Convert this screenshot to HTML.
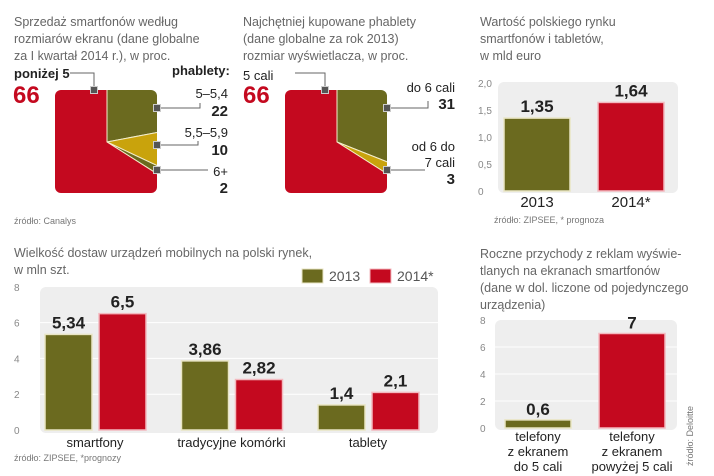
<!DOCTYPE html>
<html><head><meta charset="utf-8"><style>
body{margin:0;background:#fff;width:714px;height:476px;overflow:hidden}
svg{display:block;font-family:"Liberation Sans","DejaVu Sans",sans-serif}
</style></head><body>
<svg id="s" width="714" height="476" viewBox="0 0 714 476">
<defs>
<clipPath id="c1"><rect x="55" y="90" width="102" height="103" rx="6"/></clipPath>
<clipPath id="c2"><rect x="285" y="90" width="102" height="103" rx="6"/></clipPath>
</defs>
<g fill="#666" font-size="12.5">
<text x="14" y="26">Sprzedaż smartfonów według</text>
<text x="14" y="43">rozmiarów ekranu (dane globalne</text>
<text x="14" y="60">za I kwartał 2014 r.), w proc.</text>
<text x="243" y="26">Najchętniej kupowane phablety</text>
<text x="243" y="43">(dane globalne za rok 2013)</text>
<text x="243" y="60">rozmiar wyświetlacza, w proc.</text>
<text x="480" y="26">Wartość polskiego rynku</text>
<text x="480" y="43">smartfonów i tabletów,</text>
<text x="480" y="60">w mld euro</text>
<text x="14" y="257">Wielkość dostaw urządzeń mobilnych na polski rynek,</text>
<text x="14" y="274">w mln szt.</text>
<text x="480" y="258">Roczne przychody z reklam wyświe-</text>
<text x="480" y="275">tlanych na ekranach smartfonów</text>
<text x="480" y="292">(dane w dol. liczone od pojedynczego</text>
<text x="480" y="309">urządzenia)</text>
</g>
<g fill="#777" font-size="9">
<text x="14" y="224">źródło: Canalys</text>
<text x="494" y="223">źródło: ZIPSEE, * prognoza</text>
<text x="14" y="461">źródło: ZIPSEE, *prognozy</text>
<text transform="translate(693,466) rotate(-90)">źródło: Deloitte</text>
</g>
<!-- pie 1 labels -->
<g font-weight="bold" fill="#222" font-size="13">
<text x="14" y="78">poniżej 5</text>
<text x="172" y="75">phablety:</text>
<text x="228" y="98" text-anchor="end" font-weight="normal">5–5,4</text>
<text x="228" y="116" text-anchor="end" font-size="15">22</text>
<text x="228" y="137" text-anchor="end" font-weight="normal">5,5–5,9</text>
<text x="228" y="155" text-anchor="end" font-size="15">10</text>
<text x="228" y="176" text-anchor="end" font-weight="normal">6+</text>
<text x="228" y="193" text-anchor="end" font-size="15">2</text>
<text x="243" y="80" font-weight="normal">5 cali</text>
<text x="455" y="92" text-anchor="end" font-weight="normal">do 6 cali</text>
<text x="455" y="109" text-anchor="end" font-size="15">31</text>
<text x="455" y="151" text-anchor="end" font-weight="normal">od 6 do</text>
<text x="455" y="167" text-anchor="end" font-weight="normal">7 cali</text>
<text x="455" y="184" text-anchor="end" font-size="15">3</text>
</g>
<text x="13" y="103" fill="#c4091f" font-size="24" font-weight="bold">66</text>
<text x="243" y="103" fill="#c4091f" font-size="24" font-weight="bold">66</text>
<g stroke="#666" stroke-width="1" fill="none">
<polyline points="70,73 94,73 94,90"/>
<polyline points="157,108 200,108 200,103"/>
<polyline points="157,145 198,145 198,141"/>
<polyline points="157,170 208,170"/>
<polyline points="295,73 325,73 325,90"/>
<polyline points="387,108 428,108 428,101"/>
<polyline points="387,170 425,170"/>
</g>
<g id="g"></g>
</svg>
<script>
const pie1Labels=["5–5,4","5,5–5,9","6+","poniżej 5"];
const pie1Values=[22,10,2,66];
const pie2Labels=["do 6 cali","od 6 do 7 cali","5 cali"];
const pie2Values=[31,3,66];
const marketCats=["2013","2014*"];
const marketValues=[1.35,1.64];
const marketTicks=["0","0,5","1,0","1,5","2,0"];
const delivCats=["smartfony","tradycyjne komórki","tablety"];
const deliv2013=[5.34,3.86,1.4];
const deliv2014=[6.5,2.82,2.1];
const delivTicks=[0,2,4,6,8];
const adsCats=[["telefony","z ekranem","do 5 cali"],["telefony","z ekranem","powyżej 5 cali"]];
const adsValues=[0.6,7];
const adsTicks=[0,2,4,6,8];

const NS="http://www.w3.org/2000/svg",G=document.getElementById('g');
const RED="#c4091f",OL="#6b6a1f",GOLD="#c9a30c";
function el(t,a,p){const e=document.createElementNS(NS,t);for(const k in a)e.setAttribute(k,a[k]);(p||G).appendChild(e);return e;}
function fmt(v){return String(v).replace('.',',');}
function pie(vals,colors,cx,cy,clip,nm){
  const g=el('g',{'clip-path':'url(#'+clip+')'});
  
  
  const tot=vals.reduce((a,b)=>a+b,0);let a0=0;const R=120;
  vals.forEach((v,i)=>{const a1=a0+v/tot*2*Math.PI;
    const p=(a)=>[cx+R*Math.sin(a),cy-R*Math.cos(a)];
    const [x0,y0]=p(a0),[x1,y1]=p(a1);
    const s=el('path',{d:`M${cx},${cy}L${x0},${y0}A${R},${R} 0 ${a1-a0>Math.PI?1:0} 1 ${x1},${y1}Z`,fill:colors[i],stroke:'#f4eecc','stroke-width':1},g);
    
    
    a0=a1;});
}
pie(pie1Values,[OL,GOLD,OL,RED],107,142,'c1','pie1');
pie(pie2Values,[OL,GOLD,RED],337,142,'c2','pie2');
[[94,90],[157,108],[157,145],[157,170],[325,90],[387,108],[387,170]].forEach(([x,y])=>{
  const m=el('rect',{x:x-3.5,y:y-3.5,width:7,height:7,fill:'#555',stroke:'#ccc','stroke-width':1});
  
  
});
function plotBg(x,y,w,h,nm){const r=el('rect',{x,y,width:w,height:h,rx:6,fill:'#eeeeee'});
  
  }
function bar(x,w,y0,yv,c,nm){const r=el('rect',{x,y:yv,width:w,height:y0-yv,fill:c,stroke:c==RED?'#f3b9bf':'#e9e5c4','stroke-width':1.5});
  
  }
function val(x,y,t,s){const e=el('text',{x,y,'text-anchor':'middle','font-size':s||17,'font-weight':'bold',fill:'#222'});e.textContent=t;
  
  }
// market
{const y0=191,sc=54;const Y=v=>y0-v*sc;
 plotBg(498,82,180,111,'market-plot-bg');
 marketTicks.forEach((t,i)=>{const e=el('text',{x:478,y:Y(i*0.5)+4,'font-size':10,fill:'#888'});e.textContent=t;
   });
 const xs=[504,598];
 marketValues.forEach((v,i)=>{bar(xs[i],66,y0,Y(v),i?RED:OL,'market-bar-'+marketCats[i]);
   val(xs[i]+33,Y(v)-6,fmt(v),17);
   const t=el('text',{x:xs[i]+33,y:207,'text-anchor':'middle','font-size':15,fill:'#222'});t.textContent=marketCats[i];
   });
}
// deliveries
{const y0=430,sc=17.9;const Y=v=>y0-v*sc;
 plotBg(40,287,398,146,'deliveries-plot-bg');
 delivTicks.forEach(t=>{if(t>0&&t<8){const l=el('line',{x1:40,x2:438,y1:Y(t),y2:Y(t),stroke:'#fff','stroke-width':1});}
   const e=el('text',{x:14,y:Y(t)+4,'font-size':10,fill:'#888'});e.textContent=t;
   });
 delivCats.forEach((c,i)=>{const gx=45+i*136.5;
   bar(gx,47,y0,Y(deliv2013[i]),OL,'deliveries-bar-2013-'+i);
   bar(gx+54,47,y0,Y(deliv2014[i]),RED,'deliveries-bar-2014-'+i);
   val(gx+23.5,Y(deliv2013[i])-6,fmt(deliv2013[i]),17);
   val(gx+77.5,Y(deliv2014[i])-6,fmt(deliv2014[i]),17);
   const t=el('text',{x:gx+50,y:447,'text-anchor':'middle','font-size':13,fill:'#222'});t.textContent=c;
   });
 [[302,OL,'2013'],[370,RED,'2014*']].forEach(([x,c,t])=>{
   const r=el('rect',{x,y:269,width:21,height:14,fill:c,stroke:c==RED?'#f3b9bf':'#e9e5c4'});
   
   const e=el('text',{x:x+27,y:281,'font-size':14,fill:'#555'});e.textContent=t;
   });
}
// ads
{const y0=428,sc=13.5;const Y=v=>y0-v*sc;
 plotBg(495,320,182,110,'ads-plot-bg');
 adsTicks.forEach(t=>{if(t>0&&t<8){const l=el('line',{x1:495,x2:677,y1:Y(t),y2:Y(t),stroke:'#fff','stroke-width':1});}
   const e=el('text',{x:480,y:Y(t)+4,'font-size':10,fill:'#888'});e.textContent=t;
   });
 const xs=[505,599];
 adsValues.forEach((v,i)=>{bar(xs[i],66,y0,Y(v),i?RED:OL,'ads-bar-'+i);
   val(xs[i]+33,Y(v)-5,fmt(v),17);
   adsCats[i].forEach((l,j)=>{const t=el('text',{x:xs[i]+33,y:441+j*15,'text-anchor':'middle','font-size':13,fill:'#222'});t.textContent=l;
     });});
}
</script>
</body></html>
